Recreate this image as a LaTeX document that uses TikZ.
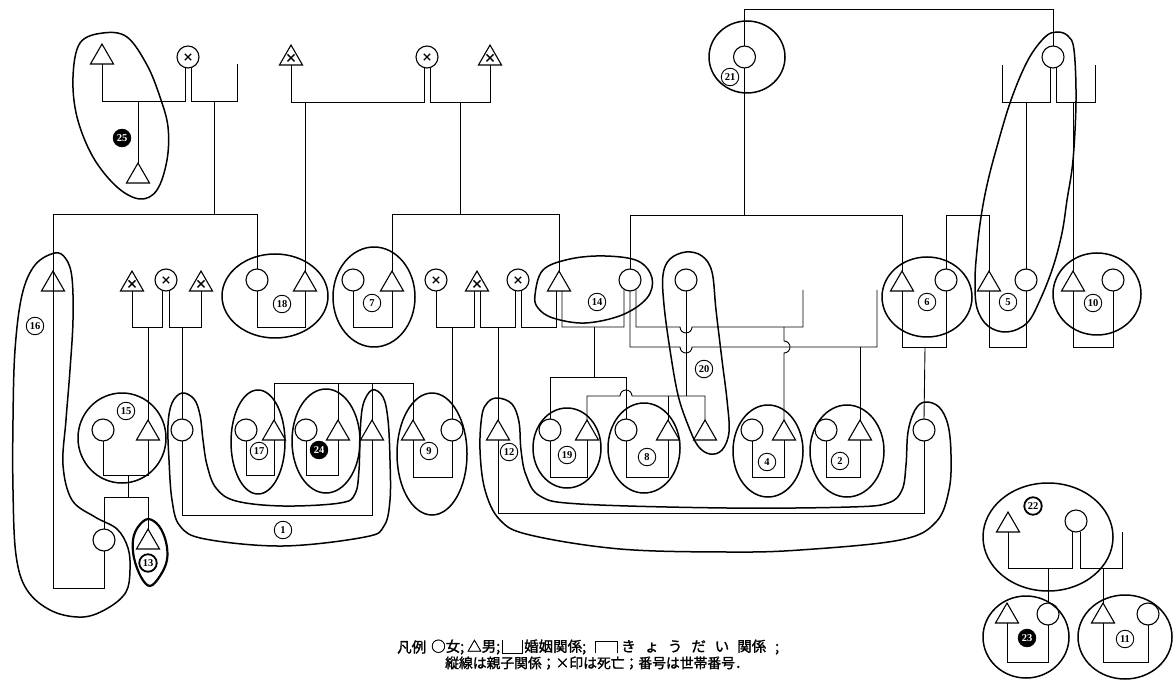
\documentclass[tikz,border=0pt]{standalone}
\usepackage{fontspec}
\usetikzlibrary{shapes.geometric}
\newfontfamily\cjk{Noto Sans CJK JP}[FakeBold=1.4]
\newfontfamily\numf{Liberation Serif}
\tikzset{
 lnk/.style={line width=0.9pt},
 xm/.style={line width=1.3pt},
 fem/.style={circle,draw,line width=1.1pt,minimum size=22pt,inner sep=0pt,outer sep=0pt},
 mal/.style={regular polygon,regular polygon sides=3,draw,line width=1.1pt,minimum size=26.6pt,inner sep=0pt,outer sep=0pt},
 blob/.style={line width=1.5pt,line join=round},
 num/.style={circle,draw,line width=0.9pt,minimum size=17.5pt,inner sep=0pt,font=\numf\bfseries\fontsize{10.5}{10.5}\selectfont},
 numd/.style={num,fill=black,text=white},
 numt/.style={num,line width=1.8pt},
 leg/.style={anchor=west,inner sep=0pt,font=\cjk\fontsize{14.5}{14.5}\selectfont},
 legb/.style={anchor=west,inner sep=0pt,font=\cjk\fontsize{13.8}{13.8}\selectfont},
}
\newcommand\fem[3]{\node[fem] (#1) at (#2,#3) {};}
\newcommand\femx[3]{\node[fem] (#1) at (#2,#3) {};
  \draw[xm] ([shift={(-3.2pt,-3.2pt)}]#1.center) -- ([shift={(3.2pt,3.2pt)}]#1.center);
  \draw[xm] ([shift={(-3.2pt,3.2pt)}]#1.center) -- ([shift={(3.2pt,-3.2pt)}]#1.center);}
\newcommand\mal[3]{\node[mal] (#1) at (#2,{#3-6.65}) {};}
\newcommand\malx[3]{\node[mal] (#1) at (#2,{#3-6.65}) {};
  \draw[xm] ([shift={(-3.5pt,-3pt)}]#1.center) -- ([shift={(3.5pt,4pt)}]#1.center);
  \draw[xm] ([shift={(-3.5pt,4pt)}]#1.center) -- ([shift={(3.5pt,-3pt)}]#1.center);}
\begin{document}
\begin{tikzpicture}[x=1pt,y=-1pt]
\fill[white] (0,0) rectangle (1174,684);
\useasboundingbox (0,0) rectangle (1174,684);
% ---------- persons ----------
% top row
\mal{m25a}{102}{64}
\femx{fx1}{188}{57}
\mal{m25}{138}{183}
\malx{mx1}{291}{65}
\femx{fx2}{427}{57}
\malx{mx2}{490}{65}
\fem{f21}{744.5}{57}
\fem{fR}{1053}{57}
% middle row
\mal{m16}{53}{291}
\malx{mx3}{132}{291}
\femx{fx3}{166}{280}
\malx{mx4}{201}{291}
\fem{f18}{257}{280}
\mal{m18}{305}{291}
\fem{f7}{353}{280}
\mal{m7}{392}{291}
\femx{fx4}{436}{280}
\malx{mx5}{477}{291}
\femx{fx5}{518}{280}
\mal{m14}{559}{291}
\fem{f14}{630}{280}
\fem{f20}{686}{280}
\mal{m6}{902}{291}
\fem{f6}{946}{280}
\mal{m5}{989}{291}
\fem{f5}{1026}{280}
\mal{m10}{1073}{291}
\fem{f10}{1113}{280}
% bottom row
\fem{f15}{103}{430}
\mal{m15}{148}{440}
\fem{f1}{182}{430}
\fem{f17}{246}{430}
\mal{m17}{274}{440}
\fem{f24}{306}{430}
\mal{m24}{338}{440}
\mal{m1}{372}{440}
\mal{m9}{413}{440}
\fem{f9}{452}{430}
\mal{m12}{498}{440}
\fem{f19}{550}{430}
\mal{m19}{587}{440}
\fem{f8}{626}{430}
\mal{m8}{668}{440}
\mal{m20}{705}{440}
\fem{f4}{752}{430}
\mal{m4}{784}{440}
\fem{f2}{826}{430}
\mal{m2}{860}{440}
\fem{f12}{924}{430}
% lower left
\fem{f16}{104}{540}
\mal{m13}{148}{549}
% bottom right
\mal{m22}{1008}{532}
\fem{f22}{1076}{521}
\fem{f23}{1048}{614}
\mal{m23}{1007}{623}
\mal{m11}{1103}{623}
\fem{f11}{1148}{614}
% ---------- connectors ----------
% 25 group
\draw[lnk] (m25a.south) -- (102,101) -- (185,101) -- ([xshift=-3pt]fx1.south);
\draw[lnk] ([xshift=3pt]fx1.south) -- (191,101) -- (237,101) -- (237,64);
\draw[lnk] (138,101) -- (m25.north);
\draw[lnk] (214,101) -- (214,214);
\draw[lnk] (m16.north) -- (53,214) -- (257,214) -- (f18.north);
\draw[lnk] (m16.north) -- (m16.south);
% top middle
\draw[lnk] (mx1.south) -- (291,102) -- (424,102) -- ([xshift=-3pt]fx2.south);
\draw[lnk] ([xshift=3pt]fx2.south) -- (430,102) -- (490,102) -- (mx2.south);
\draw[lnk] (305,102) -- (m18.north);
\draw[lnk] (460,102) -- (460,214);
\draw[lnk] (m7.north) -- (392,214) -- (559,214) -- (m14.north);
% 21 and right top
\draw[lnk] (f21.north) -- (744.5,9) -- (1053,9) -- (fR.north);
\draw[lnk] (f21.south) -- (744.5,215);
\draw[lnk] (f14.north) -- (630,215) -- (902,215) -- (m6.north);
\draw[lnk] ([xshift=-3pt]fR.south) -- (1050,102) -- (1002,102) -- (1002,65);
\draw[lnk] ([xshift=3pt]fR.south) -- (1056,102) -- (1095,102) -- (1095,65);
\draw[lnk] (1026,102) -- (f5.north);
\draw[lnk] (1073,102) -- (m10.north);
\draw[lnk] (f6.north) -- (946,215) -- (989,215) -- (m5.north);
% middle marriages
\draw[lnk] (f18.south) -- (257,327) -- (305,327) -- (m18.south);
\draw[lnk] (f7.south) -- (353,327) -- (392,327) -- (m7.south);
\draw[lnk] (mx3.south) -- (132,327) -- (162.5,327) -- ([xshift=-3.5pt]fx3.south);
\draw[lnk] ([xshift=3pt]fx3.south) -- (169,327) -- (201,327) -- (mx4.south);
\draw[lnk] (148,327) -- (m15.north);
\draw[lnk] (182,327) -- (f1.north);
\draw[lnk] (fx4.south) -- (436,327) -- (474,327) -- ([xshift=-3pt]mx5.south);
\draw[lnk] ([xshift=3pt]mx5.south) -- (480,327) -- (515,327) -- ([xshift=-3pt]fx5.south);
\draw[lnk] (452,327) -- (f9.north);
\draw[lnk] (498,327) -- (m12.north);
\draw[lnk] ([xshift=3pt]fx5.south) -- (521,327) -- (556,327) -- ([xshift=-3pt]m14.south);
\draw[lnk] ([xshift=3pt]m14.south) -- (562,327) -- (624,327) -- (f14.-123);
\draw[lnk] (f14.-57) -- (636,327) -- (680,327) arc[start angle=180,end angle=0,radius=6] -- (803,327) -- (803,290);
\draw[lnk] (f14.south) -- (630,347) -- (680,347) arc[start angle=180,end angle=0,radius=6] -- (877,347) -- (877,290);
\draw[lnk] (784,327) -- (784,341) arc[start angle=-90,end angle=90,radius=6] -- (m4.north);
\draw[lnk] (860,347) -- (m2.north);
\draw[lnk] (594,327) -- (594,377);
\draw[lnk] (f19.north) -- (550,377) -- (626,377) -- (f8.north);
\draw[lnk] (m19.north) -- (587,396) -- (620,396) arc[start angle=180,end angle=360,radius=6] -- (705,396) -- (m20.north);
\draw[lnk] (668,396) -- (m8.north);
\draw[lnk] (f20.south) -- (686,396);
\draw[lnk] (m6.south) -- (902,347) -- (946,347) -- (f6.south);
\draw[lnk] (925,347) -- (f12.north);
\draw[lnk] (m5.south) -- (989,347) -- (1026,347) -- (f5.south);
\draw[lnk] (m10.south) -- (1073,347) -- (1113,347) -- (f10.south);
% bottom
\draw[lnk] (f15.south) -- (103,475) -- (148,475) -- (m15.south);
\draw[lnk] (128,475) -- (128,497);
\draw[lnk] (f16.north) -- (104,497) -- (148,497) -- (m13.north);
\draw[lnk] (m16.south) -- (53,588) -- (104,588) -- (f16.south);
\draw[lnk] (f1.south) -- (182,515) -- (372,515) -- (m1.south);
\draw[lnk] (f17.south) -- (246,475) -- (274,475) -- (m17.south);
\draw[lnk] (f24.south) -- (306,475) -- (338,475) -- (m24.south);
\draw[lnk] (m17.north) -- (274,383) -- (413,383) -- (m9.north);
\draw[lnk] (338,383) -- (m24.north);
\draw[lnk] (372,383) -- (m1.north);
\draw[lnk] (m9.south) -- (413,477) -- (452,477) -- (f9.south);
\draw[lnk] (m12.south) -- (498,513) -- (924,513) -- (f12.south);
\draw[lnk] (f19.south) -- (550,477) -- (587,477) -- (m19.south);
\draw[lnk] (f8.south) -- (626,477) -- (668,477) -- (m8.south);
\draw[lnk] (f4.south) -- (752,477) -- (784,477) -- (m4.south);
\draw[lnk] (f2.south) -- (826,477) -- (860,477) -- (m2.south);
% bottom right
\draw[lnk] (m22.south) -- (1008,568) -- (1072,568) -- ([xshift=-4pt]f22.south);
\draw[lnk] ([xshift=4pt]f22.south) -- (1080,568) -- (1122,568) -- (1122,532);
\draw[lnk] (1048,568) -- (f23.north);
\draw[lnk] (1103,568) -- (m11.north);
\draw[lnk] (m23.south) -- (1007,662) -- (1048,662) -- (f23.south);
\draw[lnk] (m11.south) -- (1103,662) -- (1148,662) -- (f11.south);
% ---------- household outlines ----------
\draw[blob] plot[smooth cycle,tension=0.6] coordinates {(103,33) (127,37) (147,65) (160,97) (168,127) (167,160) (157,190) (140,199) (117,187) (93,157) (77,117) (73,77) (80,43)};
\draw[blob] (747,57) ellipse[x radius=38,y radius=36];
\draw[blob] plot[smooth cycle,tension=0.6] coordinates {(1057,32) (1068,36) (1074,50) (1076,100) (1073,160) (1067,200) (1062,233) (1053,267) (1040,300) (1027,323) (1007,332) (988,326) (977,308) (975,280) (977,250) (981,217) (987,185) (996,150) (1011,100) (1028,60) (1045,37)};
\draw[blob] (275,296) ellipse[x radius=53,y radius=42];
\draw[blob] (374,297) ellipse[x radius=41,y radius=50];
\draw[blob] plot[smooth cycle,tension=0.6] coordinates {(535,295) (543,270) (570,259) (605,256) (638,261) (652,278) (647,298) (622,315) (585,323) (553,318) (538,308)};
\draw[blob] plot[smooth cycle,tension=0.6] coordinates {(686,252) (702,256) (712,272) (716,310) (722,360) (727,400) (729,432) (722,450) (710,454) (698,446) (688,425) (678,395) (670,350) (664,305) (663,275) (670,259)};
\draw[blob] (927,297) ellipse[x radius=45,y radius=40];
\draw[blob] (1097,294) ellipse[x radius=44,y radius=41];
\draw[blob] plot[smooth cycle,tension=0.6] coordinates {(55,253) (66,259) (72,278) (73,320) (70,370) (66,420) (63,465) (72,500) (95,517) (117,529) (128,548) (130,570) (126,592) (108,608) (83,617) (52,611) (27,590) (16,555) (13,490) (13,420) (15,350) (22,295) (35,265)};
\draw[blob] (122,438) ellipse[x radius=44,y radius=45];
\draw[blob,line width=2.2pt] plot[smooth cycle,tension=0.6] coordinates {(148,519) (159,526) (166,542) (167,560) (160,576) (150,586) (141,577) (134,558) (133,540) (138,527)};
\draw[blob] plot[smooth cycle,tension=0.6] coordinates {(182,393) (194,399) (200,415) (203,440) (207,465) (216,488) (236,501) (283,506) (340,503) (355,494) (359,470) (360,435) (363,405) (372,390) (383,397) (388,420) (390,460) (390,500) (384,526) (365,537) (283,546) (205,539) (180,526) (172,500) (169,460) (168,425) (172,403)};
\draw[blob] (258,442) ellipse[x radius=27,y radius=52];
\draw[blob] (326,441) ellipse[x radius=34,y radius=52];
\draw[blob] (432,454) ellipse[x radius=35,y radius=61];
\draw[blob] plot[smooth cycle,tension=0.6] coordinates {(498,398) (512,404) (519,422) (521,450) (526,475) (540,496) (580,504) (727,508) (850,507) (888,503) (902,490) (906,465) (908,432) (915,410) (925,402) (939,407) (948,425) (951,455) (949,490) (936,522) (900,540) (800,550) (727,552) (620,549) (530,535) (500,520) (485,490) (480,450) (482,415) (488,402)};
\draw[blob] (567,448) ellipse[x radius=34,y radius=40];
\draw[blob] (644,448) ellipse[x radius=36,y radius=45];
\draw[blob] (768,451) ellipse[x radius=35,y radius=46];
\draw[blob] (847,451) ellipse[x radius=37,y radius=46];
\draw[blob] (1048,537) ellipse[x radius=65,y radius=54];
\draw[blob] (1026,637) ellipse[x radius=43,y radius=41];
\draw[blob] (1125,637) ellipse[x radius=47,y radius=42];
% ---------- household numbers ----------
\node[num] (n1) at (283,530) {1};
\node[num] (n2) at (840,461) {2};
\node[num] (n4) at (767,462) {4};
\node[num] (n5) at (1008,302) {5};
\node[num] (n6) at (927,302) {6};
\node[num] (n7) at (372,303) {7};
\node[num] (n8) at (647,457) {8};
\node[num] (n9) at (429,451) {9};
\node[num] (n10) at (1093,303) {10};
\node[num] (n11) at (1125,639) {11};
\node[num] (n12) at (509,452) {12};
\node[numt] (n13) at (148,563) {13};
\node[num] (n14) at (597,302) {14};
\node[num] (n15) at (126,411) {15};
\node[num] (n16) at (35,326) {16};
\node[num] (n17) at (259,451) {17};
\node[num] (n18) at (282,304) {18};
\node[num] (n19) at (567,455) {19};
\node[num] (n20) at (704,369) {20};
\node[num] (n21) at (730,77) {21};
\node[numt] (n22) at (1033,506) {22};
\node[numd] (n23) at (1027,638) {23};
\node[numd] (n24) at (319,450) {24};
\node[numd] (n25) at (122,138) {25};
% ---------- legend ----------
\node[leg] (lg1) at (397,647) {凡例};
\node[leg] (lg2) at (431,647) {○女;};
\node[leg] (lg3) at (467,647) {△男;};
\draw[lnk] (502,640) -- (502,653) -- (522,653) -- (522,640);
\node[leg] (lg4) at (524,647) {婚姻関係;};
\draw[lnk] (595,653) -- (595,641) -- (617,641) -- (617,653);
\node[leg] (lg5) at (621,647) {\hbox to 158pt{き\hfil ょ\hfil う\hfil だ\hfil い\hskip 8pt 関係\hfil ;}};
\node[legb] (lg6) at (445,663) {縦線は親子関係；×印は死亡；番号は世帯番号．};
\end{tikzpicture}
\end{document}
